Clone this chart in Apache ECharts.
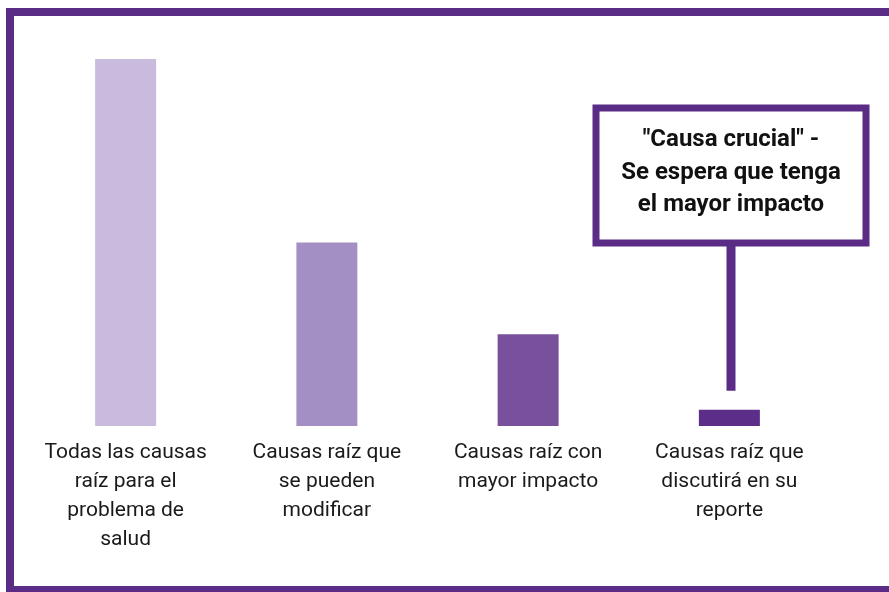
<!DOCTYPE html>
<html><head><meta charset="utf-8">
<script src="https://cdn.jsdelivr.net/npm/echarts@6/dist/echarts.min.js"></script>
<style>html,body{margin:0;padding:0;background:#fff}#c{width:889px;height:592px}</style>
</head><body><div id="c"></div>
<script>
const categories = [
  "Todas las causas\nraíz para el\nproblema de\nsalud",
  "Causas raíz que\nse pueden\nmodificar",
  "Causas raíz con\nmayor impacto",
  "Causas raíz que\ndiscutirá en su\nreporte"
];
const values = [100, 50, 25, 4.4];
const barColors = ["#c9bbdd", "#a48fc4", "#78509b", "#5c2d89"];
const annotationText = "\"Causa crucial\" -\nSe espera que tenga\nel mayor impacto";
const annotatedIndex = 3;

const chart = echarts.init(document.getElementById('c'), null, {renderer: 'canvas'});
const option = {
  animation: false,
  grid: {left: 25, right: 59, top: 59, bottom: 166},
  xAxis: {
    type: 'category', data: categories,
    axisLine: {show: false}, axisTick: {show: false},
    axisLabel: {interval: 0, margin: 12, color: '#1a1a1a', fontFamily: 'Roboto', fontSize: 21, lineHeight: 29}
  },
  yAxis: {type: 'value', min: 0, max: 100, show: false, splitLine: {show: false}},
  series: [{
    type: 'bar', barWidth: 61,
    data: values.map((v, i) => ({value: v, itemStyle: {color: barColors[i]}}))
  }]
};
chart.setOption(option);
const p = chart.convertToPixel({xAxisIndex: 0, yAxisIndex: 0}, [annotatedIndex, values[annotatedIndex]]);
const cx = Math.round(p[0]) + 2;
const boxW = 270, boxH = 135, boxTop = 108;
chart.setOption({
  graphic: [
    {type: 'rect', silent: true, shape: {x: 10, y: 12, width: 920, height: 578},
     style: {fill: 'none', stroke: '#5b2c86', lineWidth: 8}},
    {type: 'rect', silent: true, shape: {x: cx - 4.5, y: boxTop + boxH, width: 9, height: p[1] - 19 - (boxTop + boxH)},
     style: {fill: '#5b2c86'}},
    {type: 'rect', silent: true, shape: {x: cx - boxW / 2, y: boxTop, width: boxW, height: boxH},
     style: {fill: '#fff', stroke: '#5b2c86', lineWidth: 7}},
    {type: 'text', silent: true, x: cx, y: boxTop + boxH / 2 - 3,
     style: {text: annotationText, fill: '#111', font: 'bold 24px Roboto', align: 'center', verticalAlign: 'middle', lineHeight: 32.5}}
  ]
});
</script></body></html>
